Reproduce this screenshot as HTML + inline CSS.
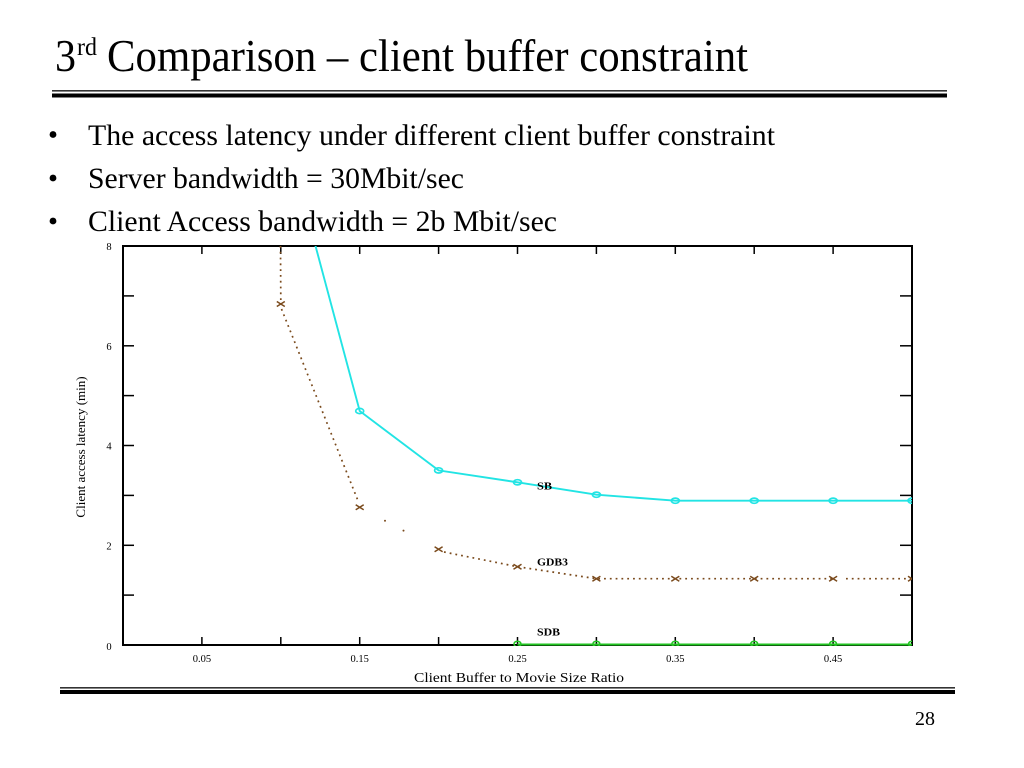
<!DOCTYPE html>
<html><head><meta charset="utf-8"><style>
html,body{margin:0;padding:0;background:#fff;}
svg{display:block;}
text{font-family:"Liberation Serif","Times New Roman",serif;fill:#000;}
</style></head><body>
<svg width="1024" height="768" viewBox="0 0 1024 768" xmlns="http://www.w3.org/2000/svg">
<defs><clipPath id="pa"><rect x="123" y="246" width="789" height="400"/></clipPath></defs>
<rect width="1024" height="768" fill="#fff"/>
<!-- Title -->
<text x="55" y="71" font-size="45" textLength="21" lengthAdjust="spacingAndGlyphs">3</text>
<text x="77" y="55" font-size="25" textLength="20" lengthAdjust="spacingAndGlyphs">rd</text>
<text x="107" y="71" font-size="45" textLength="641" lengthAdjust="spacingAndGlyphs">Comparison – client buffer constraint</text>
<!-- top rule -->
<rect x="52" y="90" width="895" height="1.6" fill="#333"/>
<rect x="52" y="93.5" width="895" height="4" fill="#000"/>
<!-- bullets -->
<circle cx="53" cy="134.5" r="3.4" fill="#000"/>
<text x="88" y="145" font-size="29.5" textLength="687" lengthAdjust="spacingAndGlyphs">The access latency under different client buffer constraint</text>
<circle cx="53" cy="178" r="3.4" fill="#000"/>
<text x="88" y="188" font-size="29.5" textLength="376" lengthAdjust="spacingAndGlyphs">Server bandwidth = 30Mbit/sec</text>
<circle cx="53" cy="221" r="3.4" fill="#000"/>
<text x="88" y="231" font-size="29.5" textLength="469" lengthAdjust="spacingAndGlyphs">Client Access bandwidth = 2b Mbit/sec</text>

<!-- plot frame -->
<rect x="123" y="246" width="789" height="399" fill="none" stroke="#000" stroke-width="2"/>
<g stroke="#000" stroke-width="1.5">
<line x1="201.9" y1="246" x2="201.9" y2="254"/><line x1="201.9" y1="645" x2="201.9" y2="637"/>
<line x1="280.8" y1="246" x2="280.8" y2="254"/><line x1="280.8" y1="645" x2="280.8" y2="637"/>
<line x1="359.7" y1="246" x2="359.7" y2="254"/><line x1="359.7" y1="645" x2="359.7" y2="637"/>
<line x1="438.6" y1="246" x2="438.6" y2="254"/><line x1="438.6" y1="645" x2="438.6" y2="637"/>
<line x1="517.5" y1="246" x2="517.5" y2="254"/><line x1="517.5" y1="645" x2="517.5" y2="637"/>
<line x1="596.4" y1="246" x2="596.4" y2="254"/><line x1="596.4" y1="645" x2="596.4" y2="637"/>
<line x1="675.3" y1="246" x2="675.3" y2="254"/><line x1="675.3" y1="645" x2="675.3" y2="637"/>
<line x1="754.2" y1="246" x2="754.2" y2="254"/><line x1="754.2" y1="645" x2="754.2" y2="637"/>
<line x1="833.1" y1="246" x2="833.1" y2="254"/><line x1="833.1" y1="645" x2="833.1" y2="637"/>
<line x1="123" y1="295.9" x2="134" y2="295.9"/><line x1="912" y1="295.9" x2="900" y2="295.9"/>
<line x1="123" y1="345.8" x2="134" y2="345.8"/><line x1="912" y1="345.8" x2="900" y2="345.8"/>
<line x1="123" y1="395.6" x2="134" y2="395.6"/><line x1="912" y1="395.6" x2="900" y2="395.6"/>
<line x1="123" y1="445.5" x2="134" y2="445.5"/><line x1="912" y1="445.5" x2="900" y2="445.5"/>
<line x1="123" y1="495.4" x2="134" y2="495.4"/><line x1="912" y1="495.4" x2="900" y2="495.4"/>
<line x1="123" y1="545.3" x2="134" y2="545.3"/><line x1="912" y1="545.3" x2="900" y2="545.3"/>
<line x1="123" y1="595.1" x2="134" y2="595.1"/><line x1="912" y1="595.1" x2="900" y2="595.1"/>
</g>
<!-- y tick labels -->
<g font-size="10.5" text-anchor="middle">
<text x="109" y="250">8</text>
<text x="109" y="350">6</text>
<text x="109" y="449.5">4</text>
<text x="109" y="549.5">2</text>
<text x="109" y="650">0</text>
</g>
<!-- x tick labels -->
<g font-size="10.5" text-anchor="middle">
<text x="201.9" y="662">0.05</text>
<text x="359.7" y="662">0.15</text>
<text x="517.5" y="662">0.25</text>
<text x="675.3" y="662">0.35</text>
<text x="833.1" y="662">0.45</text>
</g>
<text x="414" y="682" font-size="13.5" textLength="210" lengthAdjust="spacingAndGlyphs">Client Buffer to Movie Size Ratio</text>
<text transform="translate(85,447) rotate(-90)" font-size="13" text-anchor="middle">Client access latency (min)</text>

<g clip-path="url(#pa)">
<!-- SB cyan -->
<polyline fill="none" stroke="#22e4e4" stroke-width="1.9" points="280.8,116.3 359.7,411 438.6,470.4 517.5,482.3 596.4,494.7 675.3,500.7 754.2,500.7 833.1,500.7 912,500.7"/>
<g fill="none" stroke="#22e4e4" stroke-width="1.7">
<ellipse cx="359.7" cy="411" rx="4" ry="2.6"/>
<ellipse cx="438.6" cy="470.4" rx="4" ry="2.6"/>
<ellipse cx="517.5" cy="482.3" rx="4" ry="2.6"/>
<ellipse cx="596.4" cy="494.7" rx="4" ry="2.6"/>
<ellipse cx="675.3" cy="500.7" rx="4" ry="2.6"/>
<ellipse cx="754.2" cy="500.7" rx="4" ry="2.6"/>
<ellipse cx="833.1" cy="500.7" rx="4" ry="2.6"/>
<ellipse cx="912" cy="500.7" rx="4" ry="2.6"/>
</g>
<!-- GDB3 brown dotted -->
<g fill="none" stroke="#7a4a1c" stroke-width="1.7" stroke-dasharray="1.8 4">
<line x1="280.5" y1="246" x2="280.8" y2="300"/>
<line x1="281.5" y1="309" x2="358.5" y2="502"/>
<polyline points="444,552 517.5,566.7 596.4,578.7 675.3,578.7 754.2,578.7 833.1,578.7"/>
<line x1="846" y1="578.7" x2="912" y2="578.7"/>
</g>
<g fill="#7a4a1c">
<circle cx="385" cy="520.8" r="1"/>
<circle cx="403.5" cy="530.6" r="1"/>
</g>
<g fill="none" stroke="#7a4a1c" stroke-width="1.5">
<path d="M276.8,301.5 l8,5 M276.8,306.5 l8,-5"/>
<path d="M355.7,504.8 l8,5 M355.7,509.8 l8,-5"/>
<path d="M434.6,546.8 l8,5 M434.6,551.8 l8,-5"/>
<path d="M513.5,564.2 l8,5 M513.5,569.2 l8,-5"/>
<path d="M592.4,576.2 l8,5 M592.4,581.2 l8,-5"/>
<path d="M671.3,576.2 l8,5 M671.3,581.2 l8,-5"/>
<path d="M750.2,576.2 l8,5 M750.2,581.2 l8,-5"/>
<path d="M829.1,576.2 l8,5 M829.1,581.2 l8,-5"/>
<path d="M908,576.2 l8,5 M908,581.2 l8,-5"/>
</g>
<!-- SDB green -->
<line x1="517.5" y1="644.5" x2="912" y2="644.5" stroke="#22c422" stroke-width="2"/>
<g fill="none" stroke="#22c422" stroke-width="1.5">
<ellipse cx="517.5" cy="644" rx="3.5" ry="2.8"/>
<ellipse cx="596.4" cy="644" rx="3.5" ry="2.8"/>
<ellipse cx="675.3" cy="644" rx="3.5" ry="2.8"/>
<ellipse cx="754.2" cy="644" rx="3.5" ry="2.8"/>
<ellipse cx="833.1" cy="644" rx="3.5" ry="2.8"/>
<ellipse cx="912" cy="644" rx="3.5" ry="2.8"/>
</g>
</g>
<!-- series labels -->
<g font-size="10.5" font-weight="bold">
<text x="537" y="489.5" textLength="15" lengthAdjust="spacingAndGlyphs">SB</text>
<text x="537" y="565.5" textLength="31" lengthAdjust="spacingAndGlyphs">GDB3</text>
<text x="537" y="635.5" textLength="23" lengthAdjust="spacingAndGlyphs">SDB</text>
</g>
<!-- bottom rule -->
<rect x="60" y="687" width="895" height="1.6" fill="#333"/>
<rect x="60" y="690" width="895" height="4" fill="#000"/>
<!-- page number -->
<text x="935" y="725" font-size="20" text-anchor="end">28</text>
</svg>
</body></html>
